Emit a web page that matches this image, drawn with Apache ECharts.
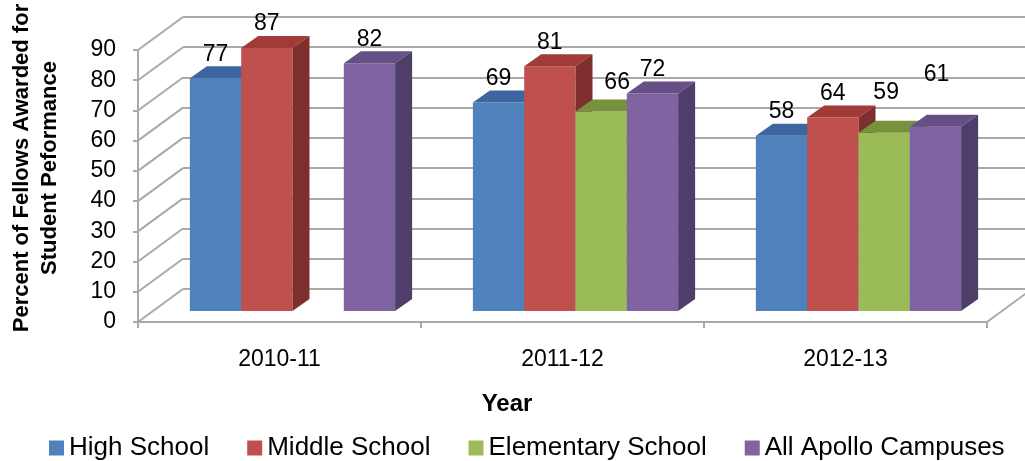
<!DOCTYPE html>
<html>
<head>
<meta charset="utf-8">
<script src="https://cdn.jsdelivr.net/npm/echarts@6/dist/echarts.min.js"></script>
<style>
html,body{margin:0;padding:0;background:#fff;}
#chart{width:1025px;height:461px;}
</style>
</head>
<body>
<div id="chart"></div>
<script>
// ---- data ----
const categories = ['2010-11', '2011-12', '2012-13'];
const seriesNames = ['High School', 'Middle School', 'Elementary School', 'All Apollo Campuses'];
const highSchool = [77, 69, 58];
const middleSchool = [87, 81, 64];
const elementarySchool = [null, 66, 59];
const allApollo = [82, 72, 61];
const yTicks = [0, 10, 20, 30, 40, 50, 60, 70, 80, 90];

// ---- styling / layout ----
const FONT = "'Liberation Sans', Arial, sans-serif";
const faceColors = [
  { front: '#4f81bd', top: '#3c66a0', side: '#2e5080' },
  { front: '#c0504d', top: '#a13b38', side: '#7e2e2c' },
  { front: '#9bbb59', top: '#76923c', side: '#5f7632' },
  { front: '#8064a2', top: '#664f87', side: '#503e6a' }
];
const GRID_COLOR = '#a9a9a9';
const BAR_SHIFT = [13, -11];   // bar front plane offset from floor front edge
const BAR_DEPTH = [17, -12];   // bar depth
const WALL_DEPTH = [45, -33];  // chart depth (back wall)
const BAR_FRAC = 0.1813;       // bar width as fraction of category width
// manual label nudges (as in the source chart)
const labelNudge = { '2|1': [16, -5], '2|2': [2, -16], '3|2': [1, -28] };

const allValues = [highSchool, middleSchool, elementarySchool, allApollo];

function barRenderer(si) {
  return function (params, api) {
    const v = api.value(1);
    if (v === null || v === undefined || isNaN(v)) return null;
    const c = api.value(0);
    const catW = api.size([1, 0])[0];
    const base = api.coord([c, 0]);
    const topP = api.coord([c, v]);
    const bw = catW * BAR_FRAC;
    const x0 = base[0] - 2 * bw + si * bw + BAR_SHIFT[0];
    const yb = base[1] + BAR_SHIFT[1];
    const yt = topP[1] + BAR_SHIFT[1];
    const dx = BAR_DEPTH[0], dy = BAR_DEPTH[1];
    const col = faceColors[si];
    const nudge = labelNudge[si + '|' + c] || [0, 0];
    return {
      type: 'group',
      children: [
        { type: 'rect', shape: { x: x0, y: yt, width: bw, height: yb - yt }, style: { fill: col.front } },
        { type: 'polygon', shape: { points: [[x0, yt], [x0 + bw, yt], [x0 + bw + dx, yt + dy], [x0 + dx, yt + dy]] }, style: { fill: col.top } },
        { type: 'polygon', shape: { points: [[x0 + bw, yt], [x0 + bw + dx, yt + dy], [x0 + bw + dx, yb + dy], [x0 + bw, yb]] }, style: { fill: col.side } },
        { type: 'text', z2: 100, style: { text: String(v), x: x0 + bw / 2 + nudge[0], y: yt - 24 + nudge[1], textAlign: 'center', textVerticalAlign: 'middle', align: 'center', verticalAlign: 'middle', font: '23px ' + FONT, fill: '#000' } }
      ]
    };
  };
}

function wallRenderer(params, api) {
  const v = api.value(1);
  const cs = params.coordSys;
  const p = api.coord([0, v]);
  const y = p[1];
  const children = [{
    type: 'line',
    shape: { x1: cs.x, y1: y, x2: cs.x + WALL_DEPTH[0], y2: y + WALL_DEPTH[1] },
    style: { stroke: GRID_COLOR, lineWidth: 2 }
  }];
  if (v === yTicks[0]) {
    children.push({
      type: 'line',
      shape: { x1: cs.x + cs.width, y1: y, x2: cs.x + cs.width + WALL_DEPTH[0], y2: y + WALL_DEPTH[1] },
      style: { stroke: GRID_COLOR, lineWidth: 2 }
    });
  }
  return { type: 'group', children: children };
}

const chart = echarts.init(document.getElementById('chart'), null, { renderer: 'canvas' });

const series = seriesNames.map((name, si) => ({
  name: name,
  type: 'custom',
  xAxisIndex: 0,
  yAxisIndex: 0,
  itemStyle: { color: faceColors[si].front },
  renderItem: barRenderer(si),
  encode: { x: 0, y: 1 },
  data: allValues[si].map((val, ci) => [ci, val === null ? NaN : val]),
  z: 3
}));

series.unshift({
  name: 'wall',
  type: 'custom',
  xAxisIndex: 0,
  yAxisIndex: 0,
  silent: true,
  renderItem: wallRenderer,
  data: yTicks.map(t => [0, t]),
  z: 1
});

const option = {
  animation: false,
  backgroundColor: '#fff',
  color: faceColors.map(f => f.front),
  grid: [
    { left: 138, right: 38, top: 50, bottom: 139, containLabel: false },
    { left: 183, right: -10, top: 17, bottom: 172, containLabel: false }
  ],
  xAxis: [
    {
      gridIndex: 0, type: 'category', data: categories, boundaryGap: true,
      axisLine: { show: true, lineStyle: { color: GRID_COLOR, width: 2 } },
      axisTick: { show: true, length: 6, interval: 0, lineStyle: { color: GRID_COLOR, width: 2 } },
      axisLabel: { fontSize: 23, fontFamily: FONT, color: '#000', margin: 26, interval: 0 },
      splitLine: { show: false }
    },
    { gridIndex: 1, type: 'value', min: 0, max: 1, show: false }
  ],
  yAxis: [
    {
      gridIndex: 0, type: 'value', min: 0, max: 90, interval: 10,
      axisLine: { show: true, lineStyle: { color: GRID_COLOR, width: 2 } },
      axisTick: { show: true, length: 5, lineStyle: { color: GRID_COLOR, width: 2 } },
      axisLabel: { fontSize: 23, fontFamily: FONT, color: '#000', margin: 22 },
      splitLine: { show: false }
    },
    {
      gridIndex: 1, type: 'value', min: 0, max: 90, interval: 10,
      axisLine: { show: false }, axisTick: { show: false }, axisLabel: { show: false },
      splitLine: { show: true, lineStyle: { color: GRID_COLOR, width: 2 } }
    }
  ],
  legend: {
    data: seriesNames,
    left: 49, top: 435, padding: 0,
    icon: 'rect', itemWidth: 15, itemHeight: 15, itemGap: 38,
    textStyle: { fontSize: 26, fontFamily: FONT, color: '#000' },
    selectedMode: false
  },
  graphic: [
    {
      type: 'text', x: 507, y: 404,
      style: { text: 'Year', textAlign: 'center', textVerticalAlign: 'middle', align: 'center', verticalAlign: 'middle', font: 'bold 24px ' + FONT, fill: '#000' }
    },
    {
      type: 'text', x: 36, y: 168, rotation: Math.PI / 2,
      style: { text: 'Percent of Fellows Awarded for\nStudent Peformance', textAlign: 'center', textVerticalAlign: 'middle', align: 'center', verticalAlign: 'middle', font: 'bold 22px ' + FONT, lineHeight: 28, fill: '#000' }
    }
  ],
  series: series
};

chart.setOption(option);
</script>
</body>
</html>
